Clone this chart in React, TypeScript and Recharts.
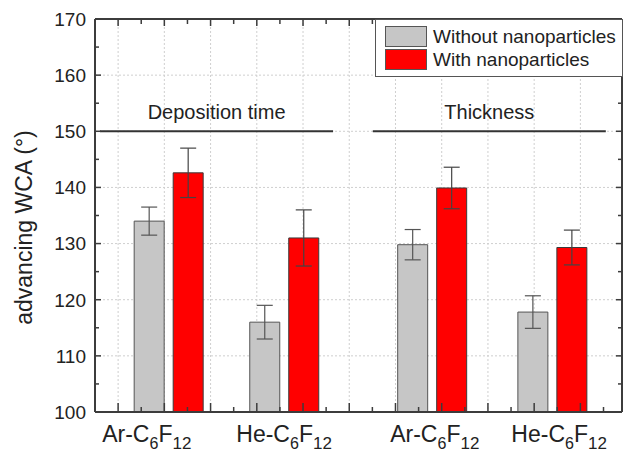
import { BarChart, Bar, XAxis, YAxis, CartesianGrid, Legend, ReferenceLine, ErrorBar } from 'recharts';

const FONT = '"Liberation Sans", Arial, sans-serif';

// bar groups (x position on the numeric axis) and measured WCA values
const groupX = [2.1, 4.6, 7.8, 10.4];
const withoutNP = [134, 116, 129.8, 117.8];
const withoutErr = [2.5, 3, 2.7, 2.9];
const withNP = [142.6, 131, 139.9, 129.3];
const withErr = [4.4, 5, 3.7, 3.1];

// category labels under the axis
const labelX = [1.62, 4.59, 7.85, 10.54];
const labelGas = ['Ar', 'He', 'Ar', 'He'];

// section headers drawn on the 150 line
const sectionNames = ['Deposition time', 'Thickness'];
const sectionFrom = [0.61, 6.51];
const sectionTo = [5.65, 11.55];

const seriesKeys = ['without', 'with'];

const xDomain = [0.5, 11.9];
const yDomain = [100, 170];
const gridX = [1, 2, 3, 4, 5, 6, 7, 8, 9, 10, 11];
const gridY = [100, 110, 120, 130, 140, 150, 160, 170];
const minorX = [1, 1.5, 2, 2.5, 3, 3.5, 4, 4.5, 5, 5.5, 6, 6.5, 7, 7.5, 8, 8.5, 9, 9.5, 10, 10.5, 11, 11.5];
const minorY = [100, 105, 110, 115, 120, 125, 130, 135, 140, 145, 150, 155, 160, 165, 170];

const data = groupX.map((x, i) => ({
  x,
  without: withoutNP[i],
  withoutErr: withoutErr[i],
  with: withNP[i],
  withErr: withErr[i],
}));

const AXIS = '#3c3c3c';
const PLOT_TOP = 19;

// bottom axis: category labels plus inward ticks on the bottom and top frame
const BottomTick = (props: any) => {
  const { x, y, payload } = props;
  const li = labelX.indexOf(payload.value);
  if (li >= 0) {
    return (
      <text x={x} y={y + 30} textAnchor="middle" fontSize={23} fill="#222" fontFamily={FONT}>
        <tspan>{labelGas[li]}-C</tspan>
        <tspan dy={7} fontSize={16}>6</tspan>
        <tspan dy={-7}>F</tspan>
        <tspan dy={7} fontSize={17}>12</tspan>
      </text>
    );
  }
  const major = Number.isInteger(payload.value);
  return (
    <g>
      <line x1={x} x2={x} y1={y} y2={y - (major ? 9 : 5)} stroke={AXIS} strokeWidth={1.5} />
      <line x1={x} x2={x} y1={PLOT_TOP} y2={PLOT_TOP + (major ? 7 : 5)} stroke={AXIS} strokeWidth={1.5} />
    </g>
  );
};

const LeftTick = (props: any) => {
  const { x, y, payload } = props;
  const major = payload.value % 10 === 0;
  return (
    <g>
      <line x1={x} x2={x + (major ? 6 : 4)} y1={y} y2={y} stroke={AXIS} strokeWidth={1.5} />
      {major && (
        <text x={x - 9} y={y} dy="0.36em" textAnchor="end" fontSize={19} fill="#222" fontFamily={FONT}>
          {payload.value}
        </text>
      )}
    </g>
  );
};

const RightTick = (props: any) => {
  const { x, y, payload } = props;
  const major = payload.value % 10 === 0;
  return <line x1={x} x2={x - (major ? 6 : 4)} y1={y} y2={y} stroke={AXIS} strokeWidth={1.5} />;
};

const renderLegend = (props: any) => {
  const items = [...props.payload].sort(
    (a: any, b: any) => seriesKeys.indexOf(a.dataKey) - seriesKeys.indexOf(b.dataKey),
  );
  return (
    <div
      style={{
        border: '1.5px solid #555',
        background: '#fff',
        width: 248,
        height: 58,
        boxSizing: 'border-box',
        padding: '5px 0 0 9px',
        fontFamily: FONT,
      }}
    >
      {items.map((e: any) => (
        <div key={e.value} style={{ display: 'flex', alignItems: 'center', height: 23 }}>
          <span
            style={{
              display: 'inline-block',
              width: 42,
              height: 21,
              background: e.color,
              border: '1px solid #555',
              boxSizing: 'border-box',
              marginRight: 6,
            }}
          />
          <span style={{ fontSize: 19, color: '#222', lineHeight: '21px' }}>{e.value}</span>
        </div>
      ))}
    </div>
  );
};

const YTitle = (props: any) => {
  const vb = props.viewBox;
  return (
    <text
      transform={`translate(${vb.x + 24}, ${vb.y + vb.height / 2 + 12}) rotate(-90)`}
      textAnchor="middle"
      dominantBaseline="central"
      fontSize={23}
      fill="#222"
      fontFamily={FONT}
    >
      advancing WCA (°)
    </text>
  );
};

export default function App() {
  return (
    <div style={{ position: 'absolute', left: 0, top: 0, background: '#fff' }}>
      <BarChart
        width={623}
        height={455}
        data={data}
        margin={{ top: PLOT_TOP, right: 0, bottom: 0, left: 0 }}
        barSize={30}
        barGap={9}
      >
        <CartesianGrid
          stroke="#cfcfcf"
          strokeDasharray="2 2"
          verticalValues={gridX}
          horizontalValues={gridY}
        />
        <XAxis
          dataKey="x"
          type="number"
          domain={xDomain}
          allowDataOverflow
          ticks={[...minorX, ...labelX]}
          interval={0}
          height={43}
          tickSize={0}
          tickMargin={0}
          tickLine={false}
          axisLine={{ stroke: AXIS, strokeWidth: 2 }}
          tick={<BottomTick />}
        />
        <YAxis
          type="number"
          domain={yDomain}
          allowDataOverflow
          ticks={minorY}
          interval={0}
          width={95}
          tickSize={0}
          tickMargin={0}
          tickLine={false}
          axisLine={{ stroke: AXIS, strokeWidth: 2 }}
          tick={<LeftTick />}
          label={{ content: <YTitle /> }}
        />
        <YAxis
          yAxisId="right"
          orientation="right"
          type="number"
          domain={yDomain}
          allowDataOverflow
          ticks={minorY}
          interval={0}
          width={1}
          tickSize={0}
          tickMargin={0}
          tickLine={false}
          axisLine={{ stroke: AXIS, strokeWidth: 2 }}
          tick={<RightTick />}
        />
        {/* top frame line */}
        <ReferenceLine y={170} stroke={AXIS} strokeWidth={2} />
        <Legend
          layout="horizontal"
          verticalAlign="middle"
          align="center"
          content={renderLegend}
          wrapperStyle={{ left: 375, top: 19, width: 248 }}
        />
        {sectionNames.map((name, i) => (
          <ReferenceLine
            key={name}
            segment={[
              { x: sectionFrom[i], y: 150 },
              { x: sectionTo[i], y: 150 },
            ]}
            stroke="#333"
            strokeWidth={2}
            label={{ value: name, position: 'top', offset: 12, fontSize: 20, fill: '#222', fontFamily: FONT }}
          />
        ))}
        <Bar dataKey="without" name="Without nanoparticles" fill="#c6c6c6" stroke="#555" strokeWidth={1} isAnimationActive={false}>
          <ErrorBar dataKey="withoutErr" width={8} stroke="#555" strokeWidth={1.2} />
        </Bar>
        <Bar dataKey="with" name="With nanoparticles" fill="#ff0000" stroke="#3a3a3a" strokeWidth={1} isAnimationActive={false}>
          <ErrorBar dataKey="withErr" width={8} stroke="#444" strokeWidth={1.2} />
        </Bar>
      </BarChart>
    </div>
  );
}
